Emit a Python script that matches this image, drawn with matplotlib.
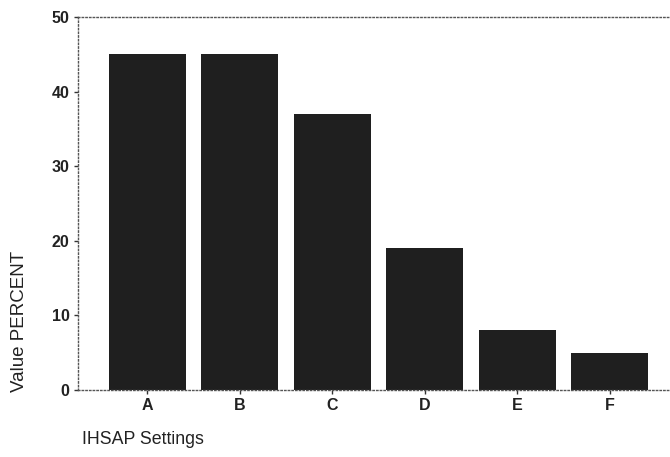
import matplotlib
matplotlib.use('Agg')
import matplotlib.pyplot as plt

plt.rcParams['font.family'] = ['Liberation Sans', 'DejaVu Sans']

settings = ['A', 'B', 'C', 'D', 'E', 'F']
percent = [45, 45, 37, 19, 8, 5]
y_ticks = [0, 10, 20, 30, 40, 50]

fig = plt.figure(figsize=(6.7, 4.57), dpi=100)
ax = fig.add_axes([78 / 670, 1 - 390 / 457, 1 - 78 / 670, (390 - 17) / 457])

x = list(range(len(settings)))
ax.bar(x, percent, width=0.83, color='#1f1f1f', zorder=2)

ax.set_xlim(-0.75, 5.65)
ax.set_ylim(0, 50)
ax.set_xticks(x)
ax.set_xticklabels(settings)
ax.set_yticks(y_ticks)
ax.tick_params(axis='both', labelsize=11.5, length=3, width=1, color='#333333', pad=3)
for lbl in ax.get_xticklabels() + ax.get_yticklabels():
    lbl.set_fontweight('bold')
    lbl.set_color('#222222')

for side in ['left', 'top', 'bottom']:
    ax.spines[side].set_linestyle(':')
    ax.spines[side].set_color('#555555')
    ax.spines[side].set_linewidth(1)
ax.spines['right'].set_visible(False)

fig.text(20 / 670, 1 - 321 / 457, 'Value PERCENT', rotation=90, ha='center', va='center',
         fontsize=13.5, color='#222222')
fig.text(82 / 670, 1 - 440 / 457, 'IHSAP Settings', ha='left', va='center',
         fontsize=12.8, color='#222222')

fig.savefig('out.png', dpi=100)
